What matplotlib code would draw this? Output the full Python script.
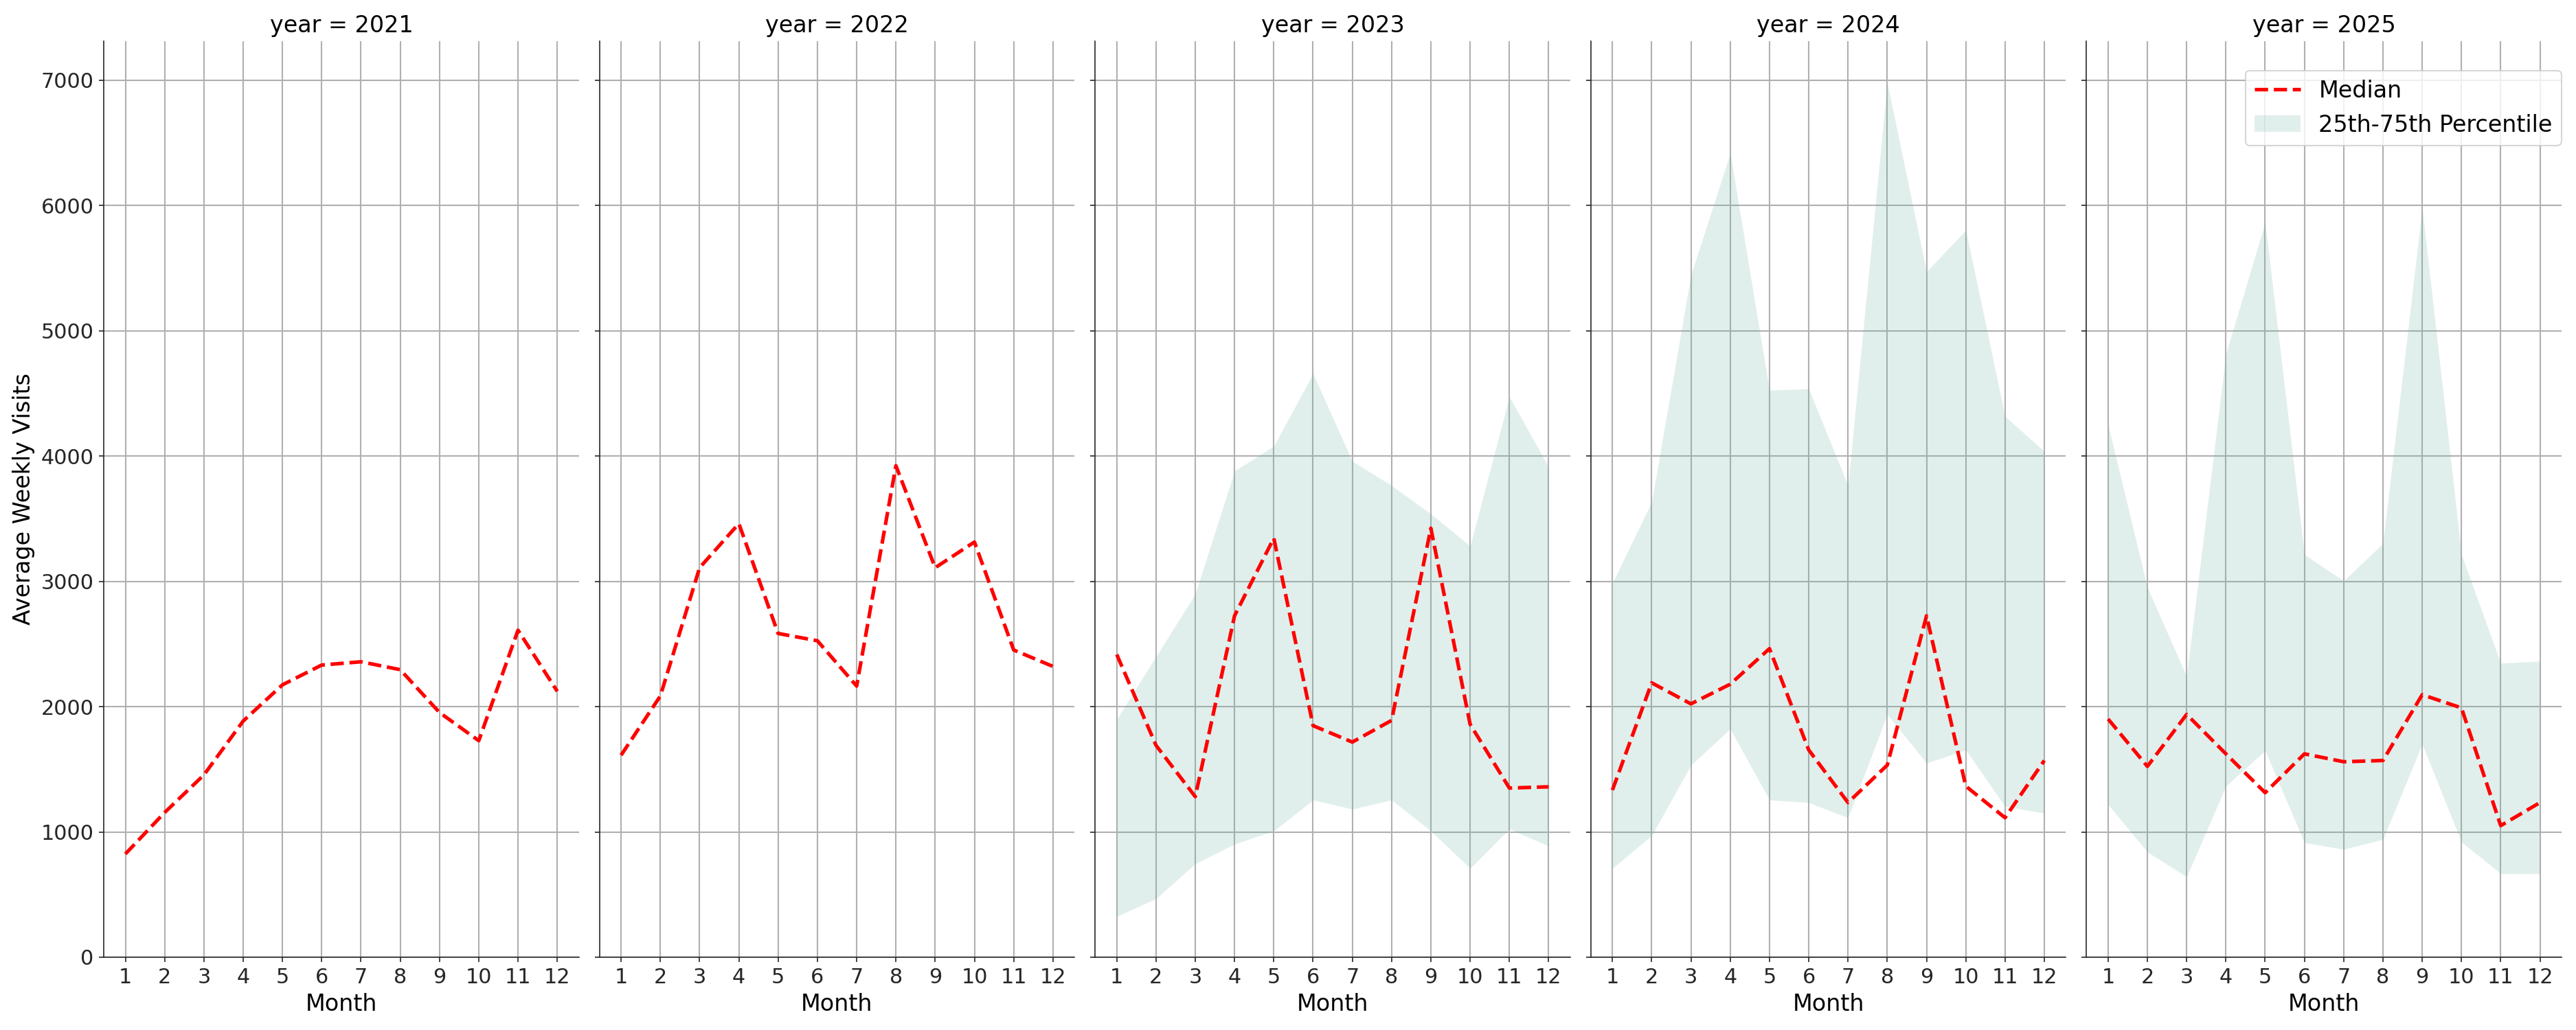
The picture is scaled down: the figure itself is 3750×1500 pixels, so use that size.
import numpy as np
import matplotlib
matplotlib.use("Agg")
import matplotlib.pyplot as plt

# monthly values
months = list(range(1, 13))
years = [2021, 2022, 2023, 2024, 2025]

median_2021 = [824, 1155, 1455, 1885, 2174, 2332, 2358, 2295, 1953, 1728, 2610, 2122]
median_2022 = [1612, 2085, 3109, 3461, 2584, 2526, 2164, 3923, 3109, 3314, 2452, 2321]
median_2023 = [2416, 1691, 1281, 2725, 3345, 1848, 1717, 1890, 3424, 1859, 1350, 1360]
median_2024 = [1334, 2190, 2022, 2179, 2463, 1654, 1234, 1533, 2725, 1365, 1113, 1570]
median_2025 = [1901, 1523, 1938, 1623, 1313, 1623, 1560, 1570, 2095, 1990, 1050, 1234]

# 25th / 75th percentile band (only available from 2023 on)
p25_2023 = [326, 467, 746, 903, 1008, 1255, 1182, 1255, 1008, 709, 1024, 887]
p75_2023 = [1901, 2400, 2899, 3881, 4080, 4658, 3959, 3765, 3539, 3282, 4474, 3912]
p25_2024 = [709, 971, 1533, 1822, 1255, 1234, 1113, 1938, 1549, 1654, 1203, 1150]
p75_2024 = [2988, 3634, 5446, 6417, 4526, 4537, 3765, 6979, 5472, 5803, 4317, 4038]
p25_2025 = [1218, 840, 641, 1365, 1649, 914, 861, 940, 1701, 919, 667, 667]
p75_2025 = [4248, 2951, 2242, 4815, 5866, 3214, 3004, 3303, 5981, 3214, 2347, 2363]

medians = [median_2021, median_2022, median_2023, median_2024, median_2025]
p25s = [None, None, p25_2023, p25_2024, p25_2025]
p75s = [None, None, p75_2023, p75_2024, p75_2025]

plt.rcParams['axes.axisbelow'] = True
plt.rcParams['axes.edgecolor'] = '#262626'
plt.rcParams['xtick.color'] = '#262626'
plt.rcParams['ytick.color'] = '#262626'

fig, axes = plt.subplots(1, 5, sharey=True, figsize=(25, 10), dpi=150)

for ax, year, med, lo, hi in zip(axes, years, medians, p25s, p75s):
    if lo is not None:
        ax.fill_between(months, lo, hi, color='#69b3a2', alpha=0.2, linewidth=0,
                        label='25th-75th Percentile')
    ax.plot(months, med, color='red', linestyle='--', linewidth=2.5, label='Median')
    ax.set_title(f"year = {year}", fontsize=16)
    ax.set_xlabel("Month", fontsize=16)
    ax.set_xticks(months)
    ax.tick_params(labelsize=14.5)
    ax.grid(True, color='#b0b0b0', linewidth=1.0)
    ax.spines['top'].set_visible(False)
    ax.spines['right'].set_visible(False)

axes[0].set_ylabel("Average Weekly Visits", fontsize=16)
axes[0].set_ylim(bottom=0)

handles, labels = axes[-1].get_legend_handles_labels()
axes[-1].legend(handles[::-1], labels[::-1], loc='upper right', fontsize=16,
                bbox_to_anchor=(1.0, 0.968), borderaxespad=0)

fig.subplots_adjust(left=0.0403, right=0.9944, top=0.96, bottom=0.0707, wspace=0.0434)
fig.savefig("out.png")
